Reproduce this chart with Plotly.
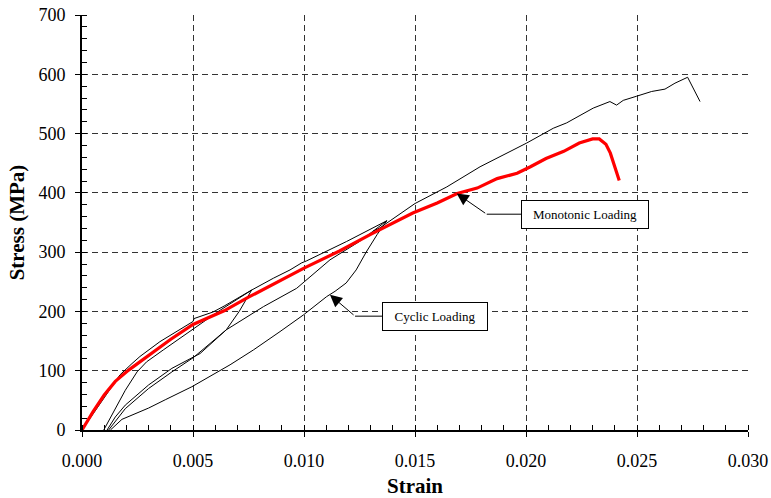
import plotly.graph_objects as go

# ---- Monotonic loading (red) ----
mono_strain = [0, 0.0005, 0.001, 0.0015, 0.0021, 0.003, 0.004, 0.005, 0.0064, 0.0075, 0.0087,
               0.010, 0.0116, 0.013, 0.0149, 0.0160, 0.0169, 0.0178, 0.0187, 0.0196, 0.0202,
               0.0209, 0.0217, 0.0224, 0.0230, 0.0233, 0.0236, 0.0238, 0.0242]
mono_stress = [0, 31, 59, 82, 101, 125, 153, 178, 201, 224, 248,
               273, 302, 330, 366, 383, 399, 408, 424, 433, 444,
               458, 470, 484, 491, 491, 482, 467, 421]

# ---- Cyclic loading (black), several branches ----
env1_strain = [0, 0.00113, 0.00171, 0.00225, 0.00261, 0.00351, 0.00441, 0.0050, 0.00505,
               0.0059, 0.0064, 0.0068, 0.00764, 0.00862, 0.00937, 0.0099, 0.0101, 0.01192, 0.01357, 0.01373]
env1_stress = [0, 62, 93, 112, 124, 149, 170, 183, 188,
               199, 209, 218, 236, 256, 270, 282, 285, 318, 349, 353]

unl1_strain = [0.00764, 0.00708, 0.0065, 0.00532, 0.00405, 0.003, 0.00195, 0.0015, 0.00113]
unl1_stress = [236, 200, 169, 129, 104, 76, 42, 22, 0]

rel1_strain = [0.0012, 0.0016, 0.00195, 0.003, 0.00405, 0.00501, 0.0065, 0.00817, 0.00967,
               0.01117, 0.01177, 0.0125, 0.0131, 0.01373]
rel1_stress = [0, 20, 36, 70, 98, 122, 169, 208, 239,
               287, 301, 318, 335, 353]

unl2_strain = [0.01373, 0.0133, 0.0128, 0.01235, 0.0119, 0.0114, 0.01102, 0.00997, 0.00892,
               0.00772, 0.00667, 0.00495, 0.00375, 0.003, 0.0018, 0.00128]
unl2_stress = [353, 330, 300, 270, 248, 234, 225, 194, 166,
               135, 110, 73, 51, 37, 18, 0]

rel2_strain = [0.00098, 0.0015, 0.00195, 0.00248, 0.00291, 0.00366, 0.00441, 0.00622, 0.00764]
rel2_stress = [0, 36, 67, 98, 115, 135, 155, 202, 236]

env2_strain = [0.0131, 0.01342, 0.015, 0.01643, 0.01793, 0.01943, 0.02003, 0.02123,
               0.02183, 0.02303, 0.02378, 0.02408, 0.02438, 0.02498, 0.02566,
               0.02626, 0.02671, 0.02728, 0.02784]
env2_stress = [335, 341, 382, 410, 444, 472, 484, 509,
               518, 543, 554, 548, 556, 563, 571,
               575, 585, 595, 554]

x_ticks = [0, 0.005, 0.010, 0.015, 0.020, 0.025, 0.030]
x_tick_text = ["0.000", "0.005", "0.010", "0.015", "0.020", "0.025", "0.030"]
y_ticks = [0, 100, 200, 300, 400, 500, 600, 700]

FONT = "Liberation Serif"

fig = go.Figure()
black_branches = [(env1_strain, env1_stress), (unl1_strain, unl1_stress), (rel1_strain, rel1_stress),
                  (unl2_strain, unl2_stress), (rel2_strain, rel2_stress), (env2_strain, env2_stress)]
for xs, ys in black_branches:
    fig.add_trace(go.Scatter(x=xs, y=ys, mode="lines", line=dict(color="black", width=1),
                             showlegend=False, hoverinfo="skip"))
fig.add_trace(go.Scatter(x=mono_strain, y=mono_stress, mode="lines",
                         line=dict(color="#ff0000", width=3.2), showlegend=False))

axis_common = dict(showline=True, linecolor="black", linewidth=2, mirror=False, automargin=False,
                   showgrid=True, gridcolor="#333333", gridwidth=1, griddash="6px,4px",
                   zeroline=False, ticks="outside", ticklen=5, tickcolor="black", tickwidth=1,
                   tickfont=dict(family=FONT, size=18, color="black"))

fig.update_xaxes(range=[0, 0.03], tickvals=x_ticks, ticktext=x_tick_text, ticklabelstandoff=8,
                 minor=dict(dtick=0.001, ticks="inside", ticklen=5, tickcolor="black", showgrid=False),
                 title=dict(text="<b>Strain</b>", font=dict(family=FONT, size=21, color="black"), standoff=10),
                 **axis_common)
fig.update_yaxes(range=[0, 700], tickvals=y_ticks, ticklabelstandoff=6,
                 minor=dict(dtick=20, ticks="inside", ticklen=5, tickcolor="black", showgrid=False),
                 title=dict(text="<b>Stress (MPa)</b>", font=dict(family=FONT, size=21, color="black"), standoff=8),
                 **axis_common)

# annotation boxes with elbow arrows
labels = [
    dict(text="Monotonic Loading", cx=0.02266, cy=364, left=0.0198, tip=(0.01688, 399), elbow=(0.01823, 364), w=124),
    dict(text="Cyclic Loading", cx=0.01592, cy=192, left=0.01357, tip=(0.01117, 228), elbow=(0.0123, 192), w=102),
]
for lb in labels:
    fig.add_annotation(x=lb["cx"], y=lb["cy"], xref="x", yref="y", text=lb["text"], showarrow=False,
                       font=dict(family=FONT, size=13, color="black"), bgcolor="white",
                       bordercolor="black", borderwidth=1, borderpad=1, width=lb["w"], height=25)
    fig.add_shape(type="line", xref="x", yref="y", x0=lb["elbow"][0], y0=lb["elbow"][1],
                  x1=lb["left"], y1=lb["elbow"][1], line=dict(color="black", width=1))
    fig.add_annotation(x=lb["tip"][0], y=lb["tip"][1], ax=lb["elbow"][0], ay=lb["elbow"][1],
                       xref="x", yref="y", axref="x", ayref="y", text="", showarrow=True,
                       arrowhead=2, arrowsize=2.4, arrowwidth=1, arrowcolor="black")

fig.update_layout(width=771, height=498, margin=dict(l=82, r=23, t=15, b=68),
                  paper_bgcolor="white", plot_bgcolor="white", showlegend=False)

fig.write_html("out.html")
